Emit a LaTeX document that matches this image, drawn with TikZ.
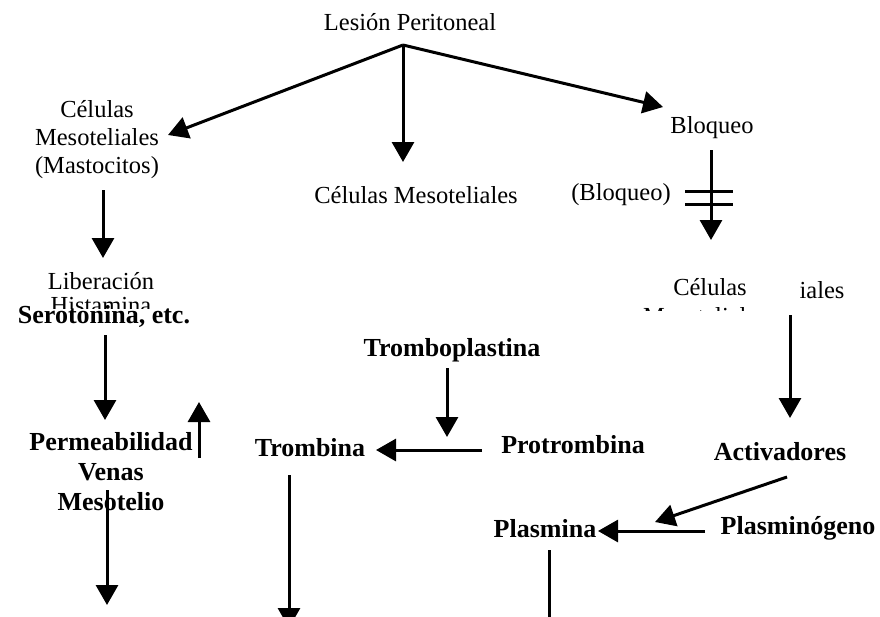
\documentclass[tikz,border=0pt]{standalone}
\usepackage{fontspec}
\setmainfont{Liberation Serif}
\usetikzlibrary{arrows.meta}
\tikzset{
  up/.style={font=\fontsize{24.5}{28}\selectfont, inner sep=0pt, align=center},
  lo/.style={font=\bfseries\fontsize{26}{30}\selectfont, inner sep=0pt, align=center},
  arr/.style={line width=3pt, -{Triangle[width=22pt,length=20pt]}},
  ln/.style={line width=3pt},
}
\begin{document}
\begin{tikzpicture}[x=1pt,y=-1pt]
\useasboundingbox (0,0) rectangle (880,616);
\clip (0,0) rectangle (880,616);
% upper part
\node[up] (les) at (410,22) {Lesión Peritoneal};
\node[up] (cmm) at (97,140) {Células\\Mesoteliales\\(Mastocitos)};
\node[up] (cm) at (416,195) {Células Mesoteliales};
\node[up] (blo) at (712,128) {Bloqueo};
\node[up] (blo2) at (621,195) {(Bloqueo)};
\node[up] (lib) at (101,281) {Liberación};
\node[up] (his) at (101,306) {Histamina};
\node[up] (celr) at (710,287) {Células};
\node[up] (mesr) at (705,316) {Mesoteliales};
\node[up] (ial) at (822,290) {iales};
\fill[white] (620,311) rectangle (780,345);
\fill[white] (5,309) rectangle (205,330);
% lower part
\node[lo] (ser) at (104,316) {Serotonina, etc.};
\node[lo] (perm) at (111,472) {Permeabilidad\\Venas\\Mesotelio};
\node[lo] (tromp) at (452,350) {Tromboplastina};
\node[lo] (trb) at (310,448) {Trombina};
\node[lo] (prot) at (573,445) {Protrombina};
\node[lo] (act) at (780,452) {Activadores};
\node[lo] (pla) at (545,529) {Plasmina};
\node[lo] (plg) at (798,528) {Plasminógeno};
% connector coordinates
\coordinate (fork) at (403,45);
\coordinate (tCmm) at (168,135);
\coordinate (tCm) at (403,162);
\coordinate (tBlo) at (663,107);
\coordinate (sBlo) at (711,150);
\coordinate (tCelr) at (711,240);
\coordinate (sCmm) at (103,190);
\coordinate (tLib) at (103,258);
\coordinate (sSer) at (105,335);
\coordinate (tPerm) at (105,420);
\coordinate (sUp) at (199,458);
\coordinate (tUp) at (199,402);
\coordinate (sPerm) at (107,490);
\coordinate (tBot1) at (107,605);
\coordinate (sTromp) at (447,368);
\coordinate (tTromp) at (447,437);
\coordinate (sProt) at (482,450);
\coordinate (tTrb) at (376,450);
\coordinate (sTrb) at (289,475);
\coordinate (tBot2) at (289,628);
\coordinate (sPla) at (549,550);
\coordinate (tBot3) at (549,640);
\coordinate (sCelr) at (790,315);
\coordinate (tAct) at (790,418);
\coordinate (sAct) at (787,477);
\coordinate (tAct2) at (655,522);
\coordinate (sPlg) at (705,531);
\coordinate (tPla) at (598,531);
% connectors
\draw[arr] (fork) -- (tCmm);
\draw[arr] (fork) -- (tCm);
\draw[arr] (fork) -- (tBlo);
\draw[arr] (sBlo) -- (tCelr);
\draw[ln] (685,191) -- (733,191);
\draw[ln] (685,204) -- (733,204);
\draw[arr] (sCmm) -- (tLib);
\draw[arr] (sSer) -- (tPerm);
\draw[arr] (sUp) -- (tUp);
\draw[arr] (sPerm) -- (tBot1);
\draw[arr] (sTromp) -- (tTromp);
\draw[arr] (sProt) -- (tTrb);
\draw[arr] (sTrb) -- (tBot2);
\draw[ln] (sPla) -- (tBot3);
\draw[arr] (sCelr) -- (tAct);
\draw[arr] (sAct) -- (tAct2);
\draw[arr] (sPlg) -- (tPla);
\end{tikzpicture}
\end{document}
